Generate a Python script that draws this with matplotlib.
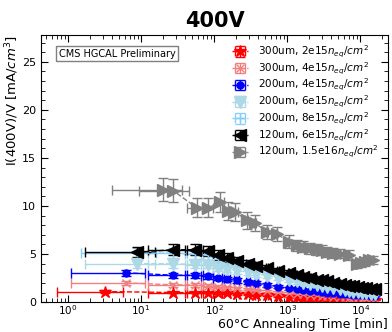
import numpy as np
import matplotlib
matplotlib.use("Agg")
import matplotlib.pyplot as plt
from matplotlib.ticker import MultipleLocator, LogLocator, NullFormatter

# annealing times [min]
t_common = [27.5, 55, 82, 113, 150, 205, 290, 380, 530, 750, 1050, 1350, 1670,
            2080, 2560, 3000, 3480, 4200, 5300, 6100, 6900, 8000, 9200, 10500,
            12000, 14000, 16000]
t_300_2e15 = [3.2] + t_common
t_300_4e15 = [6.2] + t_common
t_200_4e15 = [6.2] + t_common
t_200_6e15 = [8.7] + t_common
t_200_8e15 = [8.7] + t_common
t_120_6e15 = [8.7] + t_common
t_120_15e16 = [20, 27.5, 58, 83, 120, 155, 195, 280, 365, 530, 720, 1045, 1350,
               1670, 2080, 2560, 3000, 3480, 4200, 5300, 6900, 8900, 10300,
               11700, 13300, 15100]

# I(400V)/V [mA/cm^3]
i_300_2e15 = [1.1, 1.0, 1.0, 1.0, 0.95, 0.92, 0.88, 0.8, 0.75, 0.7, 0.62, 0.55,
              0.5, 0.47, 0.44, 0.41, 0.39, 0.37, 0.34, 0.31, 0.3, 0.28, 0.27,
              0.25, 0.24, 0.23, 0.22, 0.21]
i_300_4e15 = [2.0, 1.8, 1.8, 1.7, 1.6, 1.55, 1.45, 1.35, 1.25, 1.15, 1.05, 0.95,
              0.88, 0.82, 0.76, 0.7, 0.66, 0.62, 0.57, 0.52, 0.49, 0.46, 0.43,
              0.4, 0.37, 0.35, 0.33, 0.31]
i_200_4e15 = [3.05, 2.8, 2.8, 2.7, 2.5, 2.4, 2.25, 2.05, 1.95, 1.8, 1.6, 1.45,
              1.35, 1.28, 1.2, 1.12, 1.05, 1.0, 0.93, 0.87, 0.83, 0.8, 0.77,
              0.74, 0.72, 0.7, 0.68, 0.66]
i_200_6e15 = [4.0, 4.0, 3.9, 3.9, 3.6, 3.45, 3.3, 3.1, 2.95, 2.75, 2.55, 2.3,
              2.15, 2.0, 1.85, 1.75, 1.65, 1.55, 1.45, 1.32, 1.25, 1.18, 1.1,
              1.02, 0.95, 0.9, 0.85, 0.8]
i_200_8e15 = [5.1, 5.1, 5.0, 4.9, 4.5, 4.3, 4.05, 3.8, 3.6, 3.35, 3.1, 2.85,
              2.65, 2.5, 2.35, 2.2, 2.1, 2.0, 1.85, 1.72, 1.65, 1.58, 1.5, 1.42,
              1.36, 1.3, 1.24, 1.2]
i_120_6e15 = [5.2, 5.45, 5.45, 5.3, 4.9, 4.6, 4.25, 4.0, 3.75, 3.5, 3.25, 3.0,
              2.8, 2.65, 2.5, 2.35, 2.25, 2.15, 2.0, 1.88, 1.8, 1.72, 1.65,
              1.57, 1.5, 1.45, 1.4, 1.35]
i_120_15e16 = [11.7, 11.6, 9.8, 9.8, 10.4, 9.5, 9.4, 8.5, 8.2, 7.3, 7.1, 6.3,
               5.9, 5.75, 5.6, 5.5, 5.4, 5.2, 5.1, 5.05, 4.9, 4.0, 4.1, 4.2,
               4.35, 4.4]

# horizontal uncertainties [min]
xe_300_2e15 = [2.5] + [15] * 27
xe_300_4e15 = [5.1] + [15] * 27
xe_200_4e15 = [5.1] + [15] * 27
xe_200_6e15 = [7.0] + [15] * 27
xe_200_8e15 = [7.2] + [15] * 27
xe_120_6e15 = [7.0] + [15] * 27
xe_120_15e16 = [16, 18] + [15] * 24
rel_err = 0.1

labels = [r"300um, 2e15$n_{eq}/cm^2$", r"300um, 4e15$n_{eq}/cm^2$",
          r"200um, 4e15$n_{eq}/cm^2$", r"200um, 6e15$n_{eq}/cm^2$",
          r"200um, 8e15$n_{eq}/cm^2$", r"120um, 6e15$n_{eq}/cm^2$",
          r"120um, 1.5e16$n_{eq}/cm^2$"]

series = [
    (t_300_2e15, i_300_2e15, xe_300_2e15, "red", "*", 9),
    (t_300_4e15, i_300_4e15, xe_300_4e15, "lightcoral", "x", 6),
    (t_200_4e15, i_200_4e15, xe_200_4e15, "blue", "o", 5),
    (t_200_6e15, i_200_6e15, xe_200_6e15, "lightblue", "v", 8),
    (t_200_8e15, i_200_8e15, xe_200_8e15, "lightskyblue", "+", 6),
    (t_120_6e15, i_120_6e15, xe_120_6e15, "black", "<", 8),
    (t_120_15e16, i_120_15e16, xe_120_15e16, "gray", ">", 8),
]

fig = plt.figure(figsize=(3.92, 3.32), dpi=100)
ax = fig.add_subplot(111)
fig.subplots_adjust(left=0.105, right=0.99, top=0.895, bottom=0.09)

for (t, v, xe, c, m, ms), lab in zip(series, labels):
    v = np.array(v)
    ax.errorbar(t, v, xerr=xe, yerr=rel_err * v, color=c, marker=m, ms=ms,
                ls="--", lw=1, elinewidth=1, capsize=3.5, capthick=1,
                label=lab)

ax.set_xscale("log")
ax.set_xlim(0.43, 24000)
ax.set_ylim(0, 27.8)
ax.yaxis.set_major_locator(MultipleLocator(5))
ax.yaxis.set_minor_locator(MultipleLocator(1))
ax.xaxis.set_minor_locator(LogLocator(base=10, subs=np.arange(2, 10), numticks=20))
ax.xaxis.set_minor_formatter(NullFormatter())
ax.tick_params(which="both", direction="in", top=True, right=True, labelsize=8)
ax.tick_params(axis="x", which="major", labelsize=7.5, pad=1)
ax.tick_params(which="major", length=5)
ax.tick_params(which="minor", length=3)

ax.set_title("400V", fontsize=15, fontweight="bold", pad=6)
ax.set_xlabel("60°C Annealing Time [min]", fontsize=9, ha="right")
ax.xaxis.set_label_coords(1.0, -0.06)
ax.set_ylabel(r"I(400V)/V [mA/$cm^3$]", fontsize=9.5, loc="top", labelpad=1)

ax.text(0.05, 0.93, "CMS HGCAL Preliminary", transform=ax.transAxes,
        fontsize=7, va="center",
        bbox=dict(boxstyle="square,pad=0.3", fc="white", ec="gray", lw=1))

ax.legend(loc="upper right", frameon=False, fontsize=7.5, handlelength=1.5,
          labelspacing=0.05, borderaxespad=0.45, handletextpad=1.0)

fig.savefig("out.png", dpi=100)
